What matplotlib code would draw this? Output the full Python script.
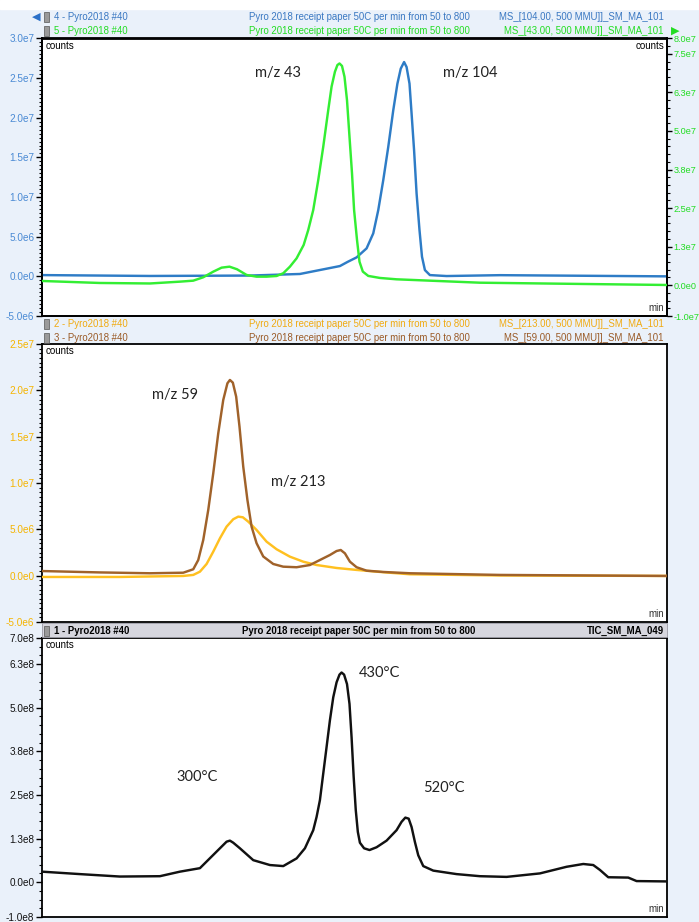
import numpy as np
import matplotlib
matplotlib.use('Agg')
import matplotlib.pyplot as plt
from matplotlib.ticker import FixedLocator, MultipleLocator, FuncFormatter, NullLocator
from matplotlib.patches import Rectangle

# ---------------- data (time in min, intensities in millions of counts / 1e8 for TIC) -------------
mz104_t = [0, 2.59, 4.99, 6.19, 6.67, 7.15, 7.34, 7.55, 7.79, 7.95, 8.07, 8.19, 8.31, 8.43, 8.53, 8.61,
           8.69, 8.75, 8.82, 8.87, 8.93, 8.99, 9.06, 9.12, 9.19, 9.31, 9.71, 10.99, 15.0]
mz104_v = [0.16, 0.05, 0.1, 0.3, 0.8, 1.3, 1.84, 2.39, 3.53, 5.42, 8.35, 12.13, 16.32, 20.94, 24.31, 26.2,
           27.03, 26.4, 24.31, 20.53, 15.9, 10.45, 5.83, 2.47, 0.79, 0.16, 0.04, 0.15, 0.0]

mz43_t = [0, 1.39, 2.59, 3.31, 3.63, 3.87, 4.11, 4.31, 4.5, 4.68, 4.91, 5.15, 5.39, 5.63, 5.79,
          5.95, 6.11, 6.28, 6.39, 6.51, 6.63, 6.75, 6.87, 6.95, 7.03, 7.09, 7.14, 7.2, 7.26, 7.32,
          7.38, 7.44, 7.49, 7.56, 7.62, 7.7, 7.83, 8.11, 8.51, 10.51, 12.91, 15.0]
mz43_v = [1.36, 0.71, 0.55, 1.14, 1.46, 2.56, 4.38, 5.68, 6.0, 5.16, 3.31, 2.76, 2.76, 2.98, 3.86,
          6.0, 8.7, 13.04, 17.9, 24.4, 34.1, 44.9, 56.8, 64.4, 69.2, 71.4, 71.9, 71.1, 67.6, 60.0,
          48.1, 36.3, 24.4, 14.7, 7.6, 4.4, 3.0, 2.34, 1.9, 0.8, 0.4, 0.06]

mz59_t = [0, 1.39, 2.59, 3.39, 3.63, 3.75, 3.87, 3.99, 4.11, 4.23, 4.35, 4.45, 4.51, 4.58, 4.66,
          4.74, 4.83, 4.93, 5.03, 5.15, 5.31, 5.55, 5.79, 6.11, 6.43, 6.67, 6.91, 7.07, 7.17, 7.27,
          7.39, 7.55, 7.79, 8.19, 8.83, 10.99, 15.0]
mz59_v = [0.5, 0.35, 0.26, 0.32, 0.69, 1.69, 3.85, 7.09, 11.04, 15.36, 18.96, 20.76, 21.12, 20.83, 19.32,
          16.08, 11.76, 8.17, 5.29, 3.5, 2.07, 1.26, 0.97, 0.91, 1.15, 1.69, 2.23, 2.66, 2.77, 2.41,
          1.51, 0.91, 0.54, 0.4, 0.26, 0.08, -0.03]

mz213_t = [0, 1.87, 3.39, 3.63, 3.79, 3.95, 4.11, 4.27, 4.43, 4.59, 4.71, 4.82, 4.95, 5.15, 5.39,
           5.63, 5.95, 6.27, 6.59, 7.07, 7.55, 8.19, 8.83, 10.99, 15.0]
mz213_v = [-0.14, -0.14, -0.03, 0.08, 0.43, 1.26, 2.59, 4.03, 5.29, 6.09, 6.37, 6.3, 5.83, 4.93, 3.67,
           2.85, 2.05, 1.51, 1.15, 0.83, 0.62, 0.37, 0.15, 0.02, -0.03]

tic_t = [0, 0.91, 1.87, 2.83, 3.31, 3.79, 4.11, 4.27, 4.43, 4.51, 4.59, 4.75, 5.07, 5.47, 5.79,
         6.11, 6.31, 6.51, 6.59, 6.67, 6.74, 6.82, 6.91, 6.99, 7.07, 7.14, 7.19, 7.25, 7.32, 7.38,
         7.43, 7.48, 7.53, 7.58, 7.63, 7.73, 7.86, 8.03, 8.27, 8.51, 8.63, 8.72, 8.8, 8.87, 8.95,
         9.03, 9.15, 9.39, 9.95, 10.51, 11.15, 11.95, 12.59, 12.99, 13.23, 13.39, 13.59, 14.07,
         14.27, 15.0]
tic_v = [0.30, 0.23, 0.16, 0.17, 0.30, 0.40, 0.78, 0.97, 1.16, 1.19, 1.13, 0.97, 0.63, 0.49, 0.46,
         0.68, 0.97, 1.49, 1.87, 2.35, 3.02, 3.78, 4.64, 5.3, 5.73, 5.95, 6.01, 5.95, 5.68, 5.11,
         4.15, 3.02, 2.07, 1.44, 1.13, 0.97, 0.92, 1.0, 1.19, 1.49, 1.73, 1.85, 1.82, 1.58, 1.15,
         0.77, 0.46, 0.33, 0.23, 0.17, 0.15, 0.25, 0.44, 0.52, 0.49, 0.35, 0.14, 0.13,
         0.03, 0.02]

hdr_top = [("4 - Pyro2018 #40", "Pyro 2018 receipt paper 50C per min from 50 to 800", "MS_[104.00, 500 MMU]]_SM_MA_101"),
           ("5 - Pyro2018 #40", "Pyro 2018 receipt paper 50C per min from 50 to 800", "MS_[43.00, 500 MMU]]_SM_MA_101")]
hdr_mid = [("2 - Pyro2018 #40", "Pyro 2018 receipt paper 50C per min from 50 to 800", "MS_[213.00, 500 MMU]]_SM_MA_101"),
           ("3 - Pyro2018 #40", "Pyro 2018 receipt paper 50C per min from 50 to 800", "MS_[59.00, 500 MMU]]_SM_MA_101")]
hdr_bot = ("1 - Pyro2018 #40", "Pyro 2018 receipt paper 50C per min from 50 to 800", "TIC_SM_MA_049")

# ---------------- style ----------------
C_BLUE = '#2e7cc6'
C_BLUE_T = '#4a8ad4'
C_GREEN = '#33ee33'
C_GREEN_T = '#22dd22'
C_BROWN = '#a0622a'
C_YEL = '#ffc020'
C_YEL_T = '#f5b400'
BG = '#eaf1fa'
TFONT = 'Liberation Sans'
AFONT = 'Lato'
LW = 1.75
TLS = 7.2

W, H = 699, 922
fig = plt.figure(figsize=(6.99, 9.22), dpi=100, facecolor=BG)


def rect(x0, y0, x1, y1):
    return [x0 / W, 1 - y1 / H, (x1 - x0) / W, (y1 - y0) / H]


def fx(x):
    return x / W


def fy(y):
    return 1 - y / H


def sci(v, pos=None):
    if abs(v) < 1e-12:
        return '0.0e0'
    e = int(np.floor(np.log10(abs(v)) + 1e-12))
    m = abs(v) / 10 ** e
    m = np.floor(m * 10 + 0.5 + 1e-9) / 10
    if m >= 10:
        m /= 10
        e += 1
    s = '-' if v < 0 else ''
    return f'{s}{m:.1f}e{e}'


# white strip at the very top
fig.patches.append(Rectangle((0, fy(9)), 1, 9 / H, transform=fig.transFigure, color='white', zorder=0))


def style(ax, lblcolor):
    ax.set_facecolor('white')
    for s in ax.spines.values():
        s.set_linewidth(1.3)
        s.set_color('black')
    ax.xaxis.set_major_locator(NullLocator())
    ax.xaxis.set_minor_locator(NullLocator())
    ax.tick_params(axis='y', which='major', direction='out', length=4, width=1, color='black',
                   labelcolor=lblcolor, labelsize=TLS, pad=1.5)
    ax.tick_params(axis='y', which='minor', direction='out', length=2.5, width=0.8, color='black')
    ax.yaxis.set_major_formatter(FuncFormatter(sci))


def setfont(ax):
    for lab in ax.get_yticklabels():
        lab.set_fontfamily(TFONT)


def inner_labels(ax, right_counts=False):
    ax.text(0.005, 0.992, 'counts', transform=ax.transAxes, ha='left', va='top', fontsize=7,
            family=TFONT, color='black')
    ax.text(0.995, 0.01, 'min', transform=ax.transAxes, ha='right', va='bottom', fontsize=7,
            family=TFONT, color='#333333')
    if right_counts:
        ax.text(0.995, 0.992, 'counts', transform=ax.transAxes, ha='right', va='top', fontsize=7,
                family=TFONT, color='black')


def header_row(y, texts, color, weight='normal'):
    a, b, c = texts
    fig.patches.append(Rectangle((fx(44), fy(y + 5)), 5 / W, 10 / H, transform=fig.transFigure,
                                 facecolor='#9a9a9a', edgecolor='#555555', lw=0.5))
    fig.text(fx(54), fy(y), a, ha='left', va='center', fontsize=6.9, family=TFONT, color=color, weight=weight)
    fig.text(fx(359), fy(y), b, ha='center', va='center', fontsize=6.9, family=TFONT, color=color, weight=weight)
    fig.text(fx(664), fy(y), c, ha='right', va='center', fontsize=6.9, family=TFONT, color=color, weight=weight)


X0, X1 = 42, 667
t_max = 15.0

# ---------------- top panel ----------------
ax1 = fig.add_axes(rect(X0, 38.5, X1, 316))
ax1.plot(mz104_t, np.array(mz104_v) * 1e6, color=C_BLUE, lw=LW, zorder=3)
ax1.set_xlim(0, t_max)
ax1.set_ylim(-5e6, 3e7)
ax1.yaxis.set_major_locator(FixedLocator(np.arange(-5e6, 3.01e7, 5e6)))
ax1.yaxis.set_minor_locator(MultipleLocator(5e5))
style(ax1, C_BLUE_T)
ax1b = ax1.twinx()
ax1b.plot(mz43_t, np.array(mz43_v) * 1e6, color=C_GREEN, lw=LW, zorder=3)
ax1b.set_ylim(-1e7, 8e7)
ax1b.yaxis.set_major_locator(FixedLocator([-1e7, 0, 1.25e7, 2.5e7, 3.75e7, 5e7, 6.25e7, 7.5e7, 8e7]))
ax1b.yaxis.set_minor_locator(MultipleLocator(2.5e6))
for s in ax1b.spines.values():
    s.set_linewidth(1.3)
ax1b.tick_params(axis='y', which='major', direction='out', length=3.5, width=1, color='black',
                 labelcolor=C_GREEN_T, labelsize=6.6, pad=1.0)
ax1b.tick_params(axis='y', which='minor', direction='out', length=2.5, width=0.8, color='black')
ax1b.yaxis.set_major_formatter(FuncFormatter(sci))
setfont(ax1b)
inner_labels(ax1b, right_counts=True)
ax1.text((278 - X0) / (X1 - X0), 1 - (73 - 38.5) / 277.5, 'm/z 43', transform=ax1.transAxes, fontsize=10.5,
         family=AFONT, ha='center', va='center', color='#222222')
ax1.text((470 - X0) / (X1 - X0), 1 - (73 - 38.5) / 277.5, 'm/z 104', transform=ax1.transAxes, fontsize=10.5,
         family=AFONT, ha='center', va='center', color='#222222')

header_row(17, hdr_top[0], '#3a78c2')
header_row(31, hdr_top[1], C_GREEN_T)
fig.text(fx(36), fy(17), '◀', ha='center', va='center', fontsize=8, color='#2a70c8', family='DejaVu Sans')
fig.text(fx(675), fy(31), '▶', ha='center', va='center', fontsize=8, color='#22dd22', family='DejaVu Sans')

# ---------------- middle panel ----------------
ax2 = fig.add_axes(rect(X0, 344, X1, 622))
ax2.plot(mz213_t, np.array(mz213_v) * 1e6, color=C_YEL, lw=LW, zorder=3)
ax2.plot(mz59_t, np.array(mz59_v) * 1e6, color=C_BROWN, lw=LW, zorder=4)
ax2.set_xlim(0, t_max)
ax2.set_ylim(-5e6, 2.5e7)
ax2.yaxis.set_major_locator(FixedLocator(np.arange(-5e6, 2.51e7, 5e6)))
ax2.yaxis.set_minor_locator(MultipleLocator(5e5))
style(ax2, C_YEL_T)
inner_labels(ax2)
ax2.text((175 - X0) / (X1 - X0), 1 - (395 - 344) / 278, 'm/z 59', transform=ax2.transAxes, fontsize=10.5,
         family=AFONT, ha='center', va='center', color='#222222')
ax2.text((298 - X0) / (X1 - X0), 1 - (482 - 344) / 278, 'm/z 213', transform=ax2.transAxes, fontsize=10.5,
         family=AFONT, ha='center', va='center', color='#222222')

header_row(324, hdr_mid[0], '#f0aa10')
header_row(338, hdr_mid[1], '#9a5a26')

# ---------------- bottom panel ----------------
fig.patches.append(Rectangle((fx(X0), fy(637)), (X1 - X0) / W, 14 / H, transform=fig.transFigure,
                             facecolor='#d6d6de', edgecolor='#9a9aa4', lw=0.6))
header_row(631, hdr_bot, 'black', weight='bold')

ax3 = fig.add_axes(rect(X0, 638, X1, 917))
ax3.plot(tic_t, np.array(tic_v) * 1e8, color='#111111', lw=LW, zorder=3)
ax3.set_xlim(0, t_max)
ax3.set_ylim(-1e8, 7e8)
ax3.yaxis.set_major_locator(FixedLocator([-1e8, 0, 1.25e8, 2.5e8, 3.75e8, 5e8, 6.25e8, 7e8]))
ax3.yaxis.set_minor_locator(MultipleLocator(2.5e7))
style(ax3, '#111111')
inner_labels(ax3)
for txt, px, py in [('300°C', 197, 777), ('430°C', 380, 673), ('520°C', 444, 788)]:
    ax3.text((px - X0) / (X1 - X0), 1 - (py - 638) / 279, txt, transform=ax3.transAxes, fontsize=10.5,
             family=AFONT, ha='center', va='center', color='#222222')

for ax in (ax1, ax2, ax3):
    setfont(ax)

fig.savefig('out.png', dpi=100, facecolor=BG)
